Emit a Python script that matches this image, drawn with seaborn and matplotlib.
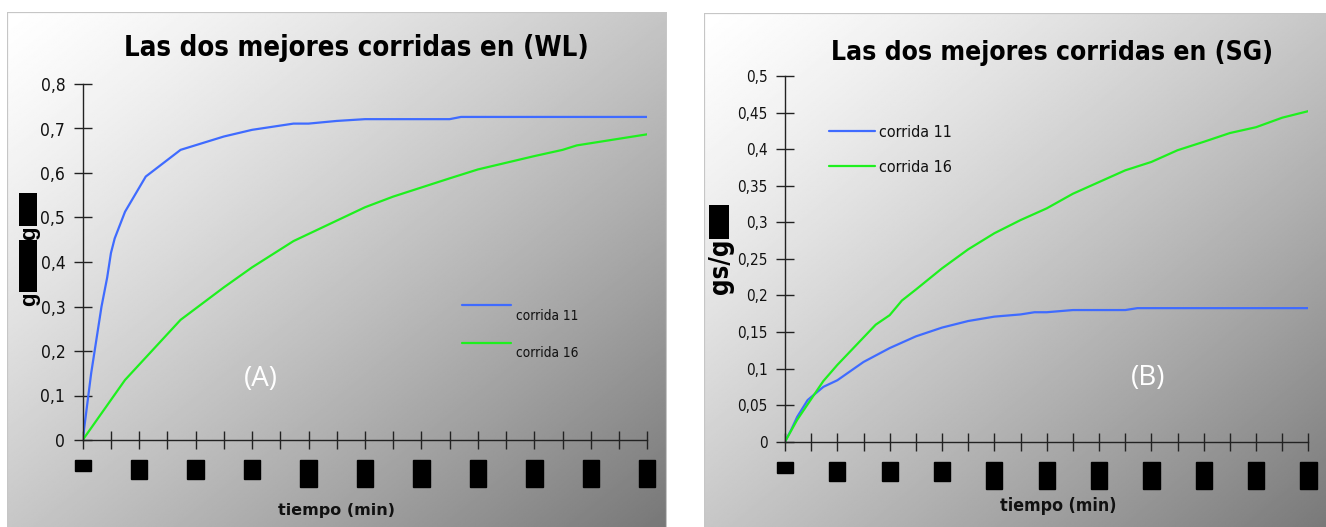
import numpy as np
import pandas as pd
import seaborn as sns
import matplotlib.pyplot as plt
from matplotlib.patches import Rectangle
from matplotlib.ticker import FuncFormatter, MultipleLocator

sns.set_theme(style='white')
plt.rcParams['font.family'] = ['DejaVu Sans']
plt.rcParams['font.stretch'] = 'condensed'

W, H = 1326, 527

# --- datos (tiempo en min) ---
wl_t11 = [0, 4.5, 10, 13, 15, 17, 22.5, 33.5, 52, 75, 90, 112, 120, 135, 150, 195, 201, 300]
wl_c11 = [0, 0.15, 0.30, 0.365, 0.42, 0.453, 0.513, 0.592, 0.652, 0.682, 0.697, 0.711,
          0.711, 0.717, 0.721, 0.721, 0.726, 0.726]
wl_t16 = [0, 22.5, 52, 75, 90, 112, 120, 135, 150, 165, 195, 210, 225, 240, 255, 262.5,
          270, 285, 300]
wl_c16 = [0, 0.135, 0.27, 0.343, 0.388, 0.447, 0.463, 0.493, 0.523, 0.547, 0.588, 0.608,
          0.623, 0.638, 0.652, 0.662, 0.667, 0.677, 0.687]

sg_t11 = [0, 3.5, 7, 13, 22, 30, 45, 60, 75, 90, 105, 120, 135, 143, 150, 165, 195, 202, 300]
sg_c11 = [0, 0.016, 0.034, 0.057, 0.075, 0.084, 0.109, 0.128, 0.144, 0.156, 0.165, 0.171,
          0.174, 0.177, 0.177, 0.180, 0.180, 0.1826, 0.1826]
sg_t16 = [0, 7, 22, 30, 52, 60, 67, 75, 90, 105, 120, 135, 150, 165, 180, 195, 210, 225,
          240, 255, 270, 285, 300]
sg_c16 = [0, 0.030, 0.083, 0.105, 0.160, 0.173, 0.193, 0.208, 0.237, 0.263, 0.285, 0.303,
          0.319, 0.339, 0.355, 0.371, 0.3825, 0.3985, 0.410, 0.422, 0.430, 0.443, 0.452]

x_labels = ['0', '30', '60', '90', '120', '150', '180', '210', '240', '270', '300']
corridas = ['corrida 11', 'corrida 16']
colores = {'corrida 11': '#3f6bff', 'corrida 16': '#1ef01e'}


def long_df(t11, c11, t16, c16):
    a = pd.DataFrame({'tiempo': t11, 'valor': c11, 'corrida': 'corrida 11'})
    b = pd.DataFrame({'tiempo': t16, 'valor': c16, 'corrida': 'corrida 16'})
    return pd.concat([a, b], ignore_index=True)


def fbox(x0, y0, x1, y1):
    # pixel box (top-left origin) -> figure fraction [l, b, w, h]
    return [x0 / W, 1 - y1 / H, (x1 - x0) / W, (y1 - y0) / H]


def panel_bg(x0, y0, x1, y1):
    bg = fig.add_axes(fbox(x0, y0, x1, y1))
    u = np.linspace(0, 1, 400)
    uu, vv = np.meshgrid(u, u)
    grad = 1 - 0.54 * ((uu + vv) / 2) ** 1.25
    bg.imshow(grad, extent=[0, 1, 0, 1], origin='upper', aspect='auto',
              cmap='gray', vmin=0, vmax=1, interpolation='bilinear')
    bg.add_patch(Rectangle((0, 0), 1, 1, transform=bg.transAxes, fill=False,
                           ec='#c6c6c6', lw=1.6))
    bg.axis('off')
    return bg


def redact(x0, y0, x1, y1):
    fig.add_artist(Rectangle((x0 / W, 1 - y1 / H), (x1 - x0) / W, (y1 - y0) / H,
                             transform=fig.transFigure, fc='black', ec='black', lw=0))


def style_axes(ax, ymax, ystep, ysize):
    ax.set_facecolor('none')
    for s in ['top', 'right']:
        ax.spines[s].set_visible(False)
    for s in ['left', 'bottom']:
        ax.spines[s].set_color('#222222')
        ax.spines[s].set_linewidth(1.0)
    ax.set_xlim(0, 300)
    ax.set_ylim(0, ymax)
    ax.xaxis.set_major_locator(MultipleLocator(30))
    ax.xaxis.set_minor_locator(MultipleLocator(15))
    ax.yaxis.set_major_locator(MultipleLocator(ystep))
    ax.yaxis.set_major_formatter(FuncFormatter(lambda v, p: f'{v:g}'.replace('.', ',')))
    ax.tick_params(which='both', direction='inout', length=13, width=1,
                   color='#222222', bottom=True, left=True)
    ax.tick_params(axis='y', labelsize=ysize, pad=6, labelcolor='#111111')
    ax.set_xticks(np.arange(0, 301, 30))
    ax.set_xticklabels(x_labels, rotation=90, fontsize=9, fontstretch='normal',
                       color='black', va='top', ha='center')
    ax.tick_params(axis='x', pad=9)
    for lab in ax.get_xticklabels():
        lab.set_bbox(dict(fc='black', ec='black', pad=1.2))
    ax.set_ylabel('')


fig = plt.figure(figsize=(W / 100, H / 100), dpi=100)
fig.patch.set_facecolor('white')

panel_bg(7, 12, 667, 540)
panel_bg(704, 13, 1340, 540)

# ---------------- panel A (WL) ----------------
axA = fig.add_axes(fbox(82.7, 84, 647.3, 440))
sns.lineplot(data=long_df(wl_t11, wl_c11, wl_t16, wl_c16), x='tiempo', y='valor',
             hue='corrida', hue_order=corridas, palette=colores, estimator=None,
             sort=False, linewidth=1.6, ax=axA, legend=False)
style_axes(axA, 0.8, 0.1, 12.5)
legA = axA.legend(handles=axA.get_lines()[:2], labels=corridas, loc='upper left',
                  bbox_to_anchor=(0.672, 0.397), frameon=False, fontsize=9.8,
                  handlelength=3.6, handletextpad=0.35, labelspacing=1.75,
                  borderpad=0, borderaxespad=0)
for t in legA.get_texts():
    t.set_color('#111111')
    t.set_position((0, -10))
axA.set_xlabel('tiempo (min)', fontsize=11.5, fontstretch='normal',
               fontweight='bold', color='#111111', va='center')
axA.xaxis.set_label_coords(0.449, -0.199)
fig.text(356 / W, 1 - 56.5 / H, 'Las dos mejores corridas en (WL)', ha='center',
         va='baseline', fontsize=19.8, fontweight='bold', color='black')
fig.text(260.7 / W, 1 - 379 / H, '(A)', ha='center', va='center', fontsize=20,
         family='Open Sans', fontstretch='normal', color='white')
fig.text(29.5 / W, 1 - 299.5 / H, 'g', rotation=90, ha='center', va='center',
         fontsize=16, fontweight='bold', family='Liberation Sans', color='black')
fig.text(30 / W, 1 - 233 / H, 'g', rotation=90, ha='center', va='center',
         fontsize=16, fontweight='bold', family='Liberation Sans', color='black')
redact(19, 240, 37, 292)
redact(19, 193, 37, 226)

# ---------------- panel B (SG) ----------------
axB = fig.add_axes(fbox(785, 76, 1308.4, 441.7))
sns.lineplot(data=long_df(sg_t11, sg_c11, sg_t16, sg_c16), x='tiempo', y='valor',
             hue='corrida', hue_order=corridas, palette=colores, estimator=None,
             sort=False, linewidth=1.6, ax=axB, legend=False)
style_axes(axB, 0.5, 0.05, 11)
legB = axB.legend(handles=axB.get_lines()[:2], labels=corridas, loc='upper left',
                  bbox_to_anchor=(0.084, 0.867), frameon=False, fontsize=11.5,
                  handlelength=2.9, handletextpad=0.25, labelspacing=1.25,
                  borderpad=0, borderaxespad=0)
for t in legB.get_texts():
    t.set_color('#111111')
axB.set_xlabel('tiempo (min)', fontsize=12.8, fontweight='bold', color='#111111',
               va='center')
axB.xaxis.set_label_coords(0.522, -0.176)
fig.text(1052 / W, 1 - 60.5 / H, 'Las dos mejores corridas en (SG)', ha='center',
         va='baseline', fontsize=19, fontweight='bold', color='black')
fig.text(1148 / W, 1 - 378.3 / H, '(B)', ha='center', va='center', fontsize=20,
         family='Open Sans', fontstretch='normal', color='white')
fig.text(721 / W, 1 - 266 / H, 'gs/g', rotation=90, ha='center', va='center',
         fontsize=18.5, fontweight='bold', color='black')
redact(709, 205, 729, 239)

fig.savefig('out.png', dpi=100)
